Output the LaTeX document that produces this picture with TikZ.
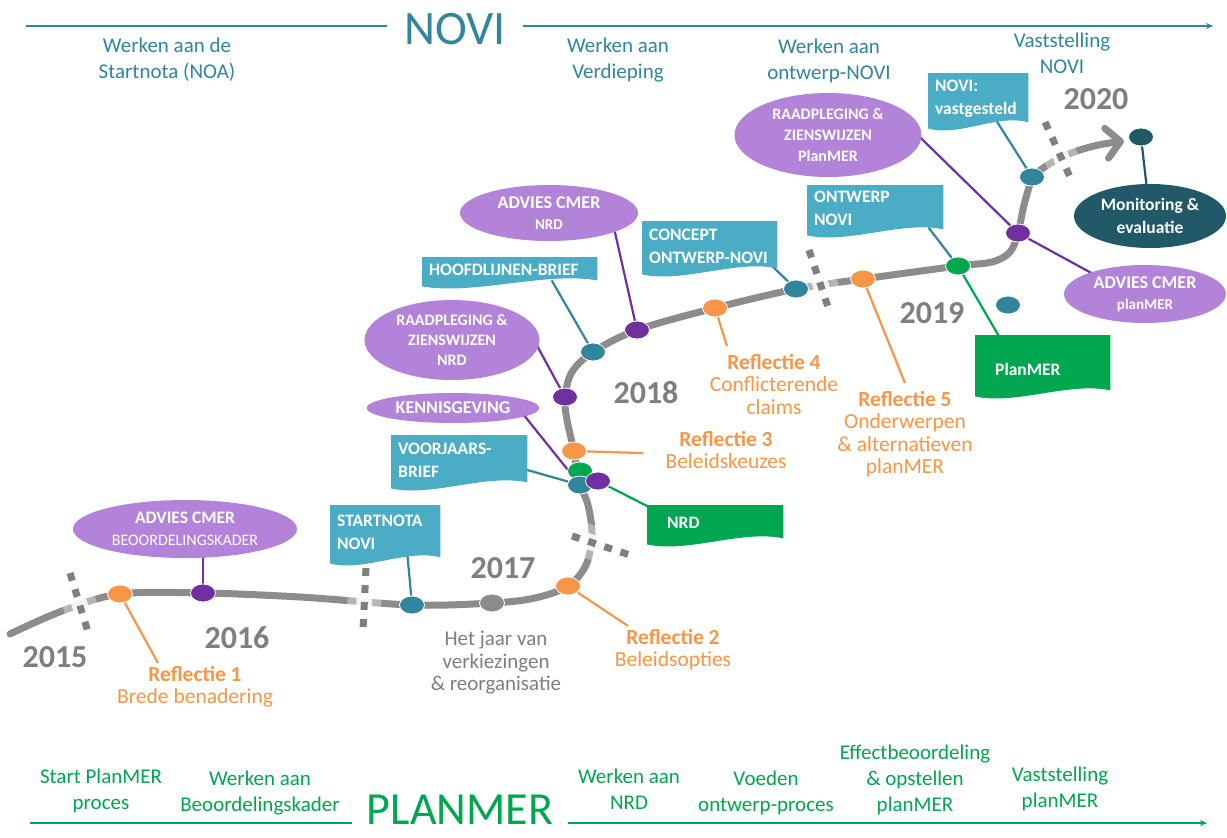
\documentclass[tikz,border=0pt]{standalone}
\usepackage{fontspec}
\setmainfont{Carlito}
\usetikzlibrary{shapes.geometric,calc,arrows.meta}
\pgfdeclarelayer{roadlayer}
\pgfdeclarelayer{connlayer}
\pgfdeclarelayer{filllayer}
\pgfsetlayers{roadlayer,connlayer,filllayer,main}
\definecolor{cTealTxt}{HTML}{31859C}
\definecolor{cBox}{HTML}{4BACC6}
\definecolor{cTealDot}{HTML}{31859C}
\definecolor{cPurpL}{HTML}{B283D9}
\definecolor{cPurpD}{HTML}{7030A0}
\definecolor{cOrange}{HTML}{F79646}
\definecolor{cGreen}{HTML}{00A650}
\definecolor{cDark}{HTML}{215968}
\definecolor{cRoad}{HTML}{8C8C8C}
\definecolor{cYear}{HTML}{7F7F7F}
\newcommand\mybanner[7]{%
  \pgfmathsetmacro\bantw{#4-14}%
  \node[bannernode, minimum width=#4pt, minimum height=#5pt, text width=\bantw pt] (#1) at (#2,#3) {#7};
  \begin{pgfonlayer}{filllayer}
  \fill[#6] (#1.north west) -- (#1.north east) -- ($(#1.south east)+(0,-3)$)
     .. controls ($(#1.south east)!0.3!(#1.south west)+(0,-12)$) and ($(#1.south east)!0.7!(#1.south west)+(0,12)$) .. ($(#1.south west)+(0,3)$) -- cycle;
  \end{pgfonlayer}}
\begin{document}
\begin{tikzpicture}[x=1pt,y=-1pt,
  bannernode/.style={anchor=north west, inner xsep=7pt, inner ysep=3pt, align=left, text=white, font=\bfseries\fontsize{17.5}{23}\selectfont},
  mydot/.style={ellipse, minimum width=25pt, minimum height=18pt, inner sep=0pt, draw=white, line width=0.8pt, fill=#1},
  bubble/.style={ellipse, fill=#1, text=white, align=center, inner sep=0pt, font=\bfseries\fontsize{17.5}{21}\selectfont},
  conn/.style={line width=2.2pt},
  road/.style={line width=7pt, cRoad, line cap=round, line join=round},
  dashsep/.style={line width=7pt, cYear, dash pattern=on 8pt off 9pt},
  halo/.style={white, line width=#1},
  refl/.style={anchor=north, align=center, inner sep=0pt, text=cOrange, font=\fontsize{21.5}{22.5}\selectfont},
  year/.style={text=cYear, font=\bfseries\fontsize{32}{34}\selectfont, inner sep=0pt},
  toptext/.style={anchor=north, align=center, inner sep=0pt, text=cTealTxt, font=\fontsize{21}{26}\selectfont},
  bottext/.style={anchor=north, align=center, inner sep=0pt, text=cGreen, font=\fontsize{21}{26}\selectfont},
  axisline/.style={line width=1.3pt}
]
\useasboundingbox (0,0) rectangle (1227,838);
\begin{pgfonlayer}{roadlayer}
\fill[white] (0,0) rectangle (1227,838);
\end{pgfonlayer}

% ---------- top axis ----------
\coordinate (tl) at (26,26);
\coordinate (tr) at (1213,26);
\node[text=cTealTxt, font=\fontsize{48}{50}\selectfont, inner xsep=17pt, inner ysep=0pt] (novi) at (455,29) {NOVI};
\draw[axisline, cTealTxt] (tl) -- (novi.west |- tl);
\draw[axisline, cTealTxt, -{Stealth[length=7pt,width=6pt]}] (novi.east |- tl) -- (tr);
\node[toptext] (t1) at (167,38) {Werken aan de\\Startnota (NOA)};
\node[toptext] (t2) at (618,38) {Werken aan\\Verdieping};
\node[toptext] (t3) at (829,39) {Werken aan\\ontwerp-NOVI};
\node[toptext] (t4) at (1062,33) {Vaststelling\\NOVI};

% ---------- bottom axis ----------
\coordinate (bl) at (30,823);
\coordinate (br) at (1207,823);
\node[text=cGreen, font=\fontsize{46}{48}\selectfont, inner xsep=15pt, inner ysep=0pt] (plan) at (460,810) {PLANMER};
\draw[axisline, cGreen] (bl) -- (plan.west |- bl);
\draw[axisline, cGreen, -{Stealth[length=7pt,width=6pt]}] (plan.east |- bl) -- (br);
\node[bottext] (b1) at (101,769) {Start PlanMER\\proces};
\node[bottext] (b2) at (260,771) {Werken aan\\Beoordelingskader};
\node[bottext] (b3) at (629,769) {Werken aan\\NRD};
\node[bottext] (b4) at (766,771) {Voeden\\ontwerp-proces};
\node[bottext] (b5) at (915,745) {Effectbeoordeling\\\& opstellen\\planMER};
\node[bottext] (b6) at (1060,767) {Vaststelling\\planMER};

% ---------- road ----------
\coordinate (arrowtip) at (1124,141);
\begin{pgfonlayer}{roadlayer}
\draw[road] plot[smooth, tension=0.55] coordinates {(10,634) (62,611) (120,594) (203,593) (300,597) (412,605) (492,603) (535,598) (568,586) (586,565) (592,535) (588,505) (580,485) (576,465) (574,451) (567,420) (565,397) (572,372) (593,352) (637,330) (715,308) (796,289) (863,279) (958,266) (992,262) (1010,252) (1018,233) (1024,205) (1032,177)};
\draw[road, -{Straight Barb[length=14pt,width=30pt,round]}] (1032,177) .. controls (1055,156) and (1085,146) .. (arrowtip);
% fades and separators
\foreach \a/\b in {{(70,573)}/{(88,632)}, {(366,568)}/{(363,630)}, {(572,536)}/{(633,556)}, {(809,250)}/{(829,310)}, {(1045,122)}/{(1070,177)}} {
  \draw[halo=34pt, opacity=0.35] \a -- \b;
  \draw[halo=16pt, opacity=0.85] \a -- \b;
  \draw[dashsep] \a -- \b;
}
\end{pgfonlayer}

% ---------- years ----------
\node[year] (y15) at (55,657) {2015};
\node[year] (y16) at (237,638) {2016};
\node[year] (y17) at (503,568) {2017};
\node[year] (y18) at (646,393) {2018};
\node[year] (y19) at (932,313) {2019};
\node[year] (y20) at (1096,99) {2020};

% ---------- banners ----------
\mybanner{startnota}{330}{505}{110}{55}{cBox}{STARTNOTA\\NOVI}
\mybanner{voorj}{391}{435}{136}{50}{cBox}{VOORJAARS-\\BRIEF}
\mybanner{hoofd}{422}{257}{175}{26}{cBox}{HOOFDLIJNEN-BRIEF}
\mybanner{concept}{642}{221}{135}{50}{cBox}{CONCEPT\\ONTWERP-NOVI}
\mybanner{ontwerp}{807}{185}{136}{47}{cBox}{ONTWERP\\NOVI}
\mybanner{noviv}{928}{73}{100}{52}{cBox}{NOVI:\\vastgesteld}
\mybanner{nrd}{647}{505}{136}{36}{cGreen}{\hspace*{13pt}NRD}
\mybanner{planmer}{975}{335}{135}{58}{cGreen}{\mbox{}\\\hspace*{13pt}PlanMER}

% ---------- bubbles ----------
\node[bubble=cPurpL, minimum width=224pt, minimum height=58pt] (ellB) at (185,529) {ADVIES CMER\\[1pt]{\mdseries\fontsize{16}{18}\selectfont BEOORDELINGSKADER}};
\node[bubble=cPurpL, minimum width=175pt, minimum height=80pt, font=\bfseries\fontsize{16}{20}\selectfont] (raadNRD) at (452,340) {RAADPLEGING \&\\ZIENSWIJZEN\\NRD};
\node[bubble=cPurpL, minimum width=173pt, minimum height=30pt, font=\bfseries\fontsize{18}{20}\selectfont] (kennis) at (453,408) {KENNISGEVING};
\node[bubble=cPurpL, minimum width=178pt, minimum height=56pt, font=\bfseries\fontsize{18}{21}\selectfont] (advNRD) at (549,213) {ADVIES CMER\\{\fontsize{15}{17}\selectfont NRD}};
\node[bubble=cPurpL, minimum width=187pt, minimum height=84pt, font=\bfseries\fontsize{16}{21}\selectfont] (raadPL) at (828,135) {RAADPLEGING \&\\ZIENSWIJZEN\\PlanMER};
\node[bubble=cPurpL, minimum width=162pt, minimum height=58pt, font=\bfseries\fontsize{18}{21}\selectfont] (advPL) at (1145,294) {ADVIES CMER\\{\fontsize{15}{17}\selectfont planMER}};
\node[bubble=cDark, minimum width=152pt, minimum height=64pt, font=\bfseries\fontsize{17.5}{23}\selectfont] (monit) at (1150,216) {Monitoring \&\\evaluatie};

% ---------- labels ----------
\node[refl] (refl1) at (195,666) {{\bfseries Reflectie 1}\\Brede benadering};
\node[refl] (refl2) at (673,629) {{\bfseries Reflectie 2}\\Beleidsopties};
\node[refl] (refl3) at (726,431) {{\bfseries Reflectie 3}\\Beleidskeuzes};
\node[refl] (refl4) at (774,354) {{\bfseries Reflectie 4}\\Conflicterende\\claims};
\node[refl] (refl5) at (905,391) {{\bfseries Reflectie 5}\\Onderwerpen\\\& alternatieven\\planMER};
\node[anchor=north, align=center, inner sep=0pt, text=cYear, font=\fontsize{21}{22.5}\selectfont] (jaar) at (496,631) {Het jaar van\\verkiezingen\\\& reorganisatie};

% ---------- dots ----------
\node[mydot=cOrange] (dO1) at (120,594) {};
\node[mydot=cPurpD] (dP1) at (203,593) {};
\node[mydot=cTealDot] (dB1) at (412,605) {};
\node[mydot=cRoad] (dGr) at (492,603) {};
\node[mydot=cOrange] (dO2) at (568,586) {};
\node[mydot=cGreen] (dG1) at (580,471) {};
\node[mydot=cTealDot] (dB2) at (580,485) {};
\node[mydot=cPurpD] (dP2) at (598,481) {};
\node[mydot=cOrange] (dO3) at (574,451) {};
\node[mydot=cPurpD] (dP3) at (565,397) {};
\node[mydot=cTealDot] (dB3) at (593,352) {};
\node[mydot=cPurpD] (dP4) at (637,330) {};
\node[mydot=cOrange] (dO4) at (715,308) {};
\node[mydot=cTealDot] (dB4) at (796,289) {};
\node[mydot=cOrange] (dO5) at (863,279) {};
\node[mydot=cGreen] (dG2) at (958,266) {};
\node[mydot=cPurpD] (dP5) at (1018,233) {};
\node[mydot=cTealDot] (dB5) at (1032,177) {};
\node[mydot=cDark] (dD) at (1141,137) {};
\node[mydot=cTealDot] (dB6) at (1008,305) {};

% ---------- connectors ----------
\begin{pgfonlayer}{connlayer}
\draw[conn, cPurpD] ($(dP1|-ellB.south)+(0,-6)$) -- (dP1);
\draw[conn, cTealDot] ($(startnota.south)+(22,-8)$) -- (dB1);
\draw[conn, cTealDot] ($(voorj.east)+(-10,7)$) -- (dB2);
\draw[conn, cPurpD] ($(kennis.center)+(70,6)$) -- (dB2);
\draw[conn, cGreen] (dP2) -- ($(nrd.north west)+(4,3)$);
\draw[conn, cOrange] (dO3) -- ($(refl3.west)+(-22,3)$);
\draw[conn, cPurpD] ($(raadNRD.east)+(-8,-4)$) -- (dP3);
\draw[conn, cTealDot] ($(hoofd.south)+(42,-3)$) -- (dB3);
\draw[conn, cPurpD] ($(advNRD.center)+(65,15)$) -- (dP4);
\draw[conn, cOrange] (dO4) -- ($(refl4.north)+(-47,-8)$);
\draw[conn, cTealDot] ($(concept.south east)+(-5,-5)$) -- (dB4);
\draw[conn, cOrange] (dO5) -- ($(refl5.north)+(0,-8)$);
\draw[conn, cTealDot] ($(ontwerp.south east)+(-15,-5)$) -- (dG2);
\draw[conn, cGreen] (dG2) -- ($(planmer.north west)+(25,3)$);
\draw[conn, cPurpD] ($(raadPL.east)+(-4,0)$) -- (dP5);
\draw[conn, cPurpD] (dP5) -- ($(advPL.center)+(-15,0)$);
\draw[conn, cTealDot] ($(noviv.south)+(18,-5)$) -- (dB5);
\draw[conn, cDark] (dD) -- (monit);
\draw[conn, cOrange] (dO1) -- ($(refl1.north)+(-37,-3)$);
\draw[conn, cOrange] (dO2) -- ($(refl2.north)+(-45,-3)$);
\end{pgfonlayer}
\end{tikzpicture}
\end{document}
